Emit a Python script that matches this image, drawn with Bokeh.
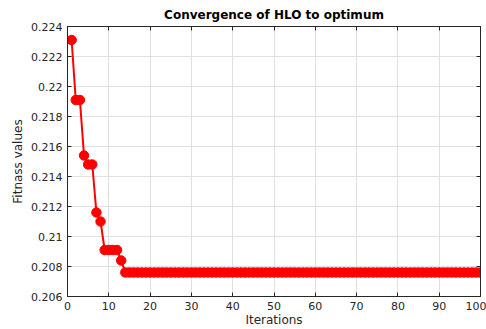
from bokeh.plotting import figure
from bokeh.models import FixedTicker, LinearAxis, Range1d
from bokeh.embed import file_html
from bokeh.resources import INLINE

iterations = list(range(1, 101))
fitness_head = [0.2231, 0.2191, 0.2191, 0.2154, 0.2148, 0.2148, 0.2116, 0.2110,
                0.2091, 0.2091, 0.2091, 0.2091, 0.2084]
fitness_tail_value = 0.2076
fitness = fitness_head + [fitness_tail_value] * (len(iterations) - len(fitness_head))

x_ticks = list(range(0, 101, 10))
y_ticks = [0.206, 0.208, 0.21, 0.212, 0.214, 0.216, 0.218, 0.22, 0.222, 0.224]
y_tick_labels = ["0.206", "0.208", "0.21", "0.212", "0.214", "0.216", "0.218", "0.22", "0.222", "0.224"]

FONT = "DejaVu Sans"
TXT = "#262626"

p = figure(width=486, height=329, output_backend="svg", toolbar_location=None,
           x_range=Range1d(0, 100), y_range=Range1d(0.206, 0.224),
           min_border_left=67, min_border_right=6, min_border_top=26, min_border_bottom=32,
           title="Convergence of HLO to optimum")
p.title.align = "center"
p.title.text_font = FONT
p.title.text_font_size = "12px"
p.title.text_font_style = "bold"
p.title.text_color = "black"
p.title.offset = 0
p.title.standoff = 10

p.outline_line_color = TXT
p.outline_line_width = 1
p.background_fill_color = "white"
p.border_fill_color = "white"

p.line(iterations, fitness, line_color="red", line_width=2)
p.scatter(iterations, fitness, size=9.5, fill_color="red", line_color="red")

ylab = {v: s for v, s in zip(y_ticks, y_tick_labels)}

for ax in p.xaxis:
    ax.ticker = FixedTicker(ticks=x_ticks)
    ax.axis_label = "Iterations"
    ax.major_label_standoff = 5
    ax.axis_label_standoff = 0
for ax in p.yaxis:
    ax.ticker = FixedTicker(ticks=y_ticks)
    ax.major_label_overrides = ylab
    ax.axis_label = "Fitnass values"
    ax.major_label_standoff = 5
    ax.axis_label_standoff = 3

for ax in p.xaxis + p.yaxis:
    ax.axis_line_color = TXT
    ax.major_tick_line_color = TXT
    ax.major_tick_in = 4
    ax.major_tick_out = 0
    ax.minor_tick_line_color = None
    ax.major_label_text_font = FONT
    ax.major_label_text_font_size = "11px"
    ax.major_label_text_color = TXT
    ax.axis_label_text_font = FONT
    ax.axis_label_text_font_size = "12px"
    ax.axis_label_text_font_style = "normal"
    ax.axis_label_text_color = TXT

top = LinearAxis(ticker=FixedTicker(ticks=x_ticks),
                 major_label_overrides={t: "" for t in x_ticks},
                 major_tick_in=4, major_tick_out=0, minor_tick_line_color=None,
                 axis_line_color=TXT, major_tick_line_color=TXT, major_label_standoff=0)
right = LinearAxis(ticker=FixedTicker(ticks=y_ticks),
                   major_label_overrides={t: "" for t in y_ticks},
                   major_tick_in=4, major_tick_out=0, minor_tick_line_color=None,
                   axis_line_color=TXT, major_tick_line_color=TXT, major_label_standoff=0)
p.add_layout(top, "above")
p.add_layout(right, "right")

p.xgrid.ticker = FixedTicker(ticks=x_ticks)
p.ygrid.ticker = FixedTicker(ticks=y_ticks)
p.grid.grid_line_color = "#e0e0e0"
p.grid.grid_line_width = 1

open("out.html", "w").write(file_html(p, INLINE))
